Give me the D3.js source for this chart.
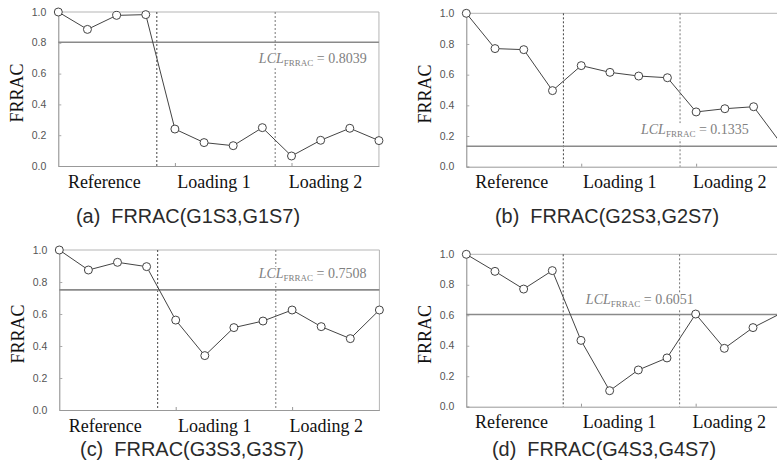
<!DOCTYPE html>
<html>
<head>
<meta charset="utf-8">
<script src="https://cdn.jsdelivr.net/npm/d3@7"></script>
<style>
  html, body { margin: 0; padding: 0; background: #fff; }
  svg { display: block; }
</style>
</head>
<body>
<div id="chart"></div>
<script>
"use strict";

// ---- data ----
var sections = ["Reference", "Loading 1", "Loading 2"];
var yTicks = [0, 0.2, 0.4, 0.6, 0.8, 1.0];
var captions = [
    "(a)  FRRAC(G1S3,G1S7)",
    "(b)  FRRAC(G2S3,G2S7)",
    "(c)  FRRAC(G3S3,G3S7)",
    "(d)  FRRAC(G4S3,G4S7)"
];
var lclValues = [0.8039, 0.1335, 0.7508, 0.6051];
var frracA = [1.0, 0.887, 0.978, 0.983, 0.240, 0.152, 0.132, 0.249, 0.065, 0.167, 0.245, 0.165];
var frracB = [1.0, 0.770, 0.763, 0.496, 0.659, 0.615, 0.591, 0.580, 0.357, 0.378, 0.391, 0.14];
var frracC = [1.0, 0.875, 0.923, 0.896, 0.562, 0.340, 0.515, 0.556, 0.625, 0.521, 0.446, 0.625];
var frracD = [1.0, 0.888, 0.772, 0.893, 0.435, 0.105, 0.241, 0.320, 0.608, 0.383, 0.519, 0.615];
var series = [frracA, frracB, frracC, frracD];

// ---- layout (pixels) ----
var W = 777, H = 467;
var panels = [
    { left: 58.3, top: 12, bottom: 166, step: 29.15, capX: 188, capY: 223, lclX: 6.88, lclDy: 21 },
    { left: 466.3, top: 13.3, bottom: 166.7, step: 28.73, capX: 607, capY: 223, lclX: 6.08, lclDy: -12 },
    { left: 59.3, top: 250, bottom: 410, step: 29.1, capX: 192, capY: 456, lclX: 6.85, lclDy: -12 },
    { left: 466.3, top: 254.3, bottom: 406.7, step: 28.67, capX: 604, capY: 456, lclX: 4.17, lclDy: -10 }
];
var dividers = [3.38, 7.44];        // section boundaries in point-index units
var sectionCentres = [1.58, 5.34, 9.17];
var sectionTicks = [4, 8];

var svg = d3.select("#chart").append("svg")
    .attr("width", W)
    .attr("height", H);

var serif = "'Liberation Serif', 'DejaVu Serif', serif";
var sans = "'Liberation Sans', Arial, sans-serif";

panels.forEach(function (p, k) {
    var data = series[k];
    var n = data.length;
    var x = d3.scaleLinear().domain([0, n - 1]).range([p.left, p.left + (n - 1) * p.step]);
    var y = d3.scaleLinear().domain([0, 1]).range([p.bottom, p.top]);
    var right = x(n - 1);
    var g = svg.append("g");

    // frame: top and right borders
    g.append("line")
        .attr("x1", p.left).attr("x2", right)
        .attr("y1", y(1)).attr("y2", y(1))
        .attr("stroke", "#b5b5b5").attr("stroke-width", 1);
    g.append("line")
        .attr("x1", right).attr("x2", right)
        .attr("y1", y(1)).attr("y2", y(0))
        .attr("stroke", "#b5b5b5").attr("stroke-width", 1);

    // y axis
    var yAxis = d3.axisRight(y).tickValues(yTicks).tickSize(3).tickFormat("");
    var ya = g.append("g")
        .attr("transform", "translate(" + p.left + ",0)")
        .call(yAxis);
    ya.select(".domain").attr("stroke", "#888");
    ya.selectAll(".tick line").attr("stroke", "#aaa");
    g.selectAll("text.ytick")
        .data(yTicks)
        .enter().append("text")
        .attr("class", "ytick")
        .attr("x", p.left - 12)
        .attr("y", function (d) { return y(d); })
        .attr("dy", "0.35em")
        .attr("text-anchor", "end")
        .style("font-family", sans)
        .style("font-size", "10.5px")
        .style("fill", "#555")
        .text(function (d) { return d3.format(".1f")(d); });

    // x axis
    var xAxis = d3.axisTop(x).tickValues(sectionTicks).tickSize(3).tickFormat("").tickSizeOuter(0);
    var xa = g.append("g")
        .attr("transform", "translate(0," + p.bottom + ")")
        .call(xAxis);
    xa.select(".domain").attr("stroke", "#999");
    xa.selectAll(".tick line").attr("stroke", "#999");

    g.selectAll("text.section")
        .data(sections)
        .enter().append("text")
        .attr("class", "section")
        .attr("x", function (d, i) { return x(sectionCentres[i]); })
        .attr("y", p.bottom + 21.5)
        .attr("text-anchor", "middle")
        .style("font-family", serif)
        .style("font-size", "18px")
        .style("fill", "#111")
        .text(function (d) { return d; });

    // y label
    g.append("text")
        .attr("transform", "translate(" + (p.left - 35.5) + "," + ((p.top + p.bottom) / 2 + 4) + ") rotate(-90)")
        .attr("text-anchor", "middle")
        .style("font-family", serif)
        .style("font-size", "18px")
        .style("fill", "#111")
        .text("FRRAC");

    // section dividers
    g.selectAll("line.divider")
        .data(dividers)
        .enter().append("line")
        .attr("class", "divider")
        .attr("x1", function (d) { return x(d); })
        .attr("x2", function (d) { return x(d); })
        .attr("y1", y(1)).attr("y2", y(0))
        .attr("stroke", function (d, i) { return i === 0 ? "#444" : "#777"; })
        .attr("stroke-width", 1)
        .attr("stroke-dasharray", "2,2");

    // LCL line
    var lcl = lclValues[k];
    g.append("line")
        .attr("x1", p.left).attr("x2", right)
        .attr("y1", y(lcl)).attr("y2", y(lcl))
        .attr("stroke", "#8a8a8a").attr("stroke-width", 1.6);

    // LCL label with white backing
    var lab = g.append("text")
        .attr("x", x(p.lclX))
        .attr("y", y(lcl) + p.lclDy)
        .style("font-family", serif)
        .style("font-size", "14px")
        .style("fill", "#808080");
    lab.append("tspan").style("font-style", "italic").text("LCL");
    lab.append("tspan").attr("dy", 3).style("font-size", "9px").text("FRRAC");
    lab.append("tspan").attr("dy", -3).text(" = " + d3.format(".4f")(lcl));
    var bb = lab.node().getBBox();
    g.insert("rect", function () { return lab.node(); })
        .attr("x", bb.x - 1).attr("y", bb.y + 1)
        .attr("width", bb.width + 2).attr("height", bb.height - 1)
        .attr("fill", "#fff");

    // series line and markers
    var line = d3.line()
        .x(function (d, i) { return x(i); })
        .y(function (d) { return y(d); });
    g.append("path")
        .datum(data)
        .attr("d", line)
        .attr("fill", "none")
        .attr("stroke", "#444")
        .attr("stroke-width", 1);
    g.selectAll("circle")
        .data(data)
        .enter().append("circle")
        .attr("cx", function (d, i) { return x(i); })
        .attr("cy", function (d) { return y(d); })
        .attr("r", 4)
        .attr("fill", "#fff")
        .attr("stroke", "#444")
        .attr("stroke-width", 1);

    // caption (keep the double space after the panel letter)
    svg.append("text")
        .attr("x", p.capX)
        .attr("y", p.capY)
        .attr("text-anchor", "middle")
        .attr("textLength", 224)
        .attr("lengthAdjust", "spacingAndGlyphs")
        .style("white-space", "pre")
        .style("font-family", sans)
        .style("font-size", "20px")
        .style("fill", "#2a2a2a")
        .text(captions[k]);
});
</script>
</body>
</html>
